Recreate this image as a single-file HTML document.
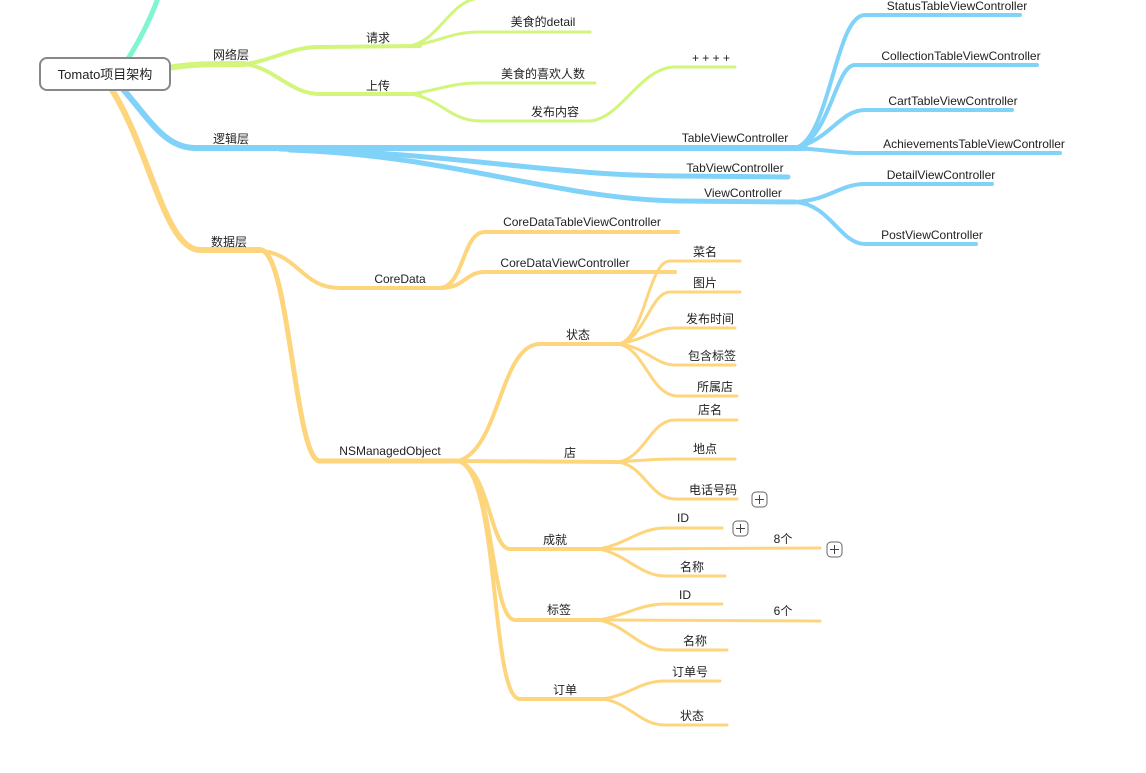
<!DOCTYPE html>
<html><head><meta charset="utf-8"><style>
html,body{margin:0;padding:0;background:#fff;}
svg{display:block;}
text{font-family:"Liberation Sans","Noto Sans CJK SC",sans-serif;font-size:12px;fill:#222;text-anchor:middle;}
.g{stroke:#d2f57c;fill:none;stroke-linecap:round;}
.b{stroke:#80d2f8;fill:none;stroke-linecap:round;}
.o{stroke:#fdd57c;fill:none;stroke-linecap:round;}
</style></head><body>
<svg width="1146" height="773" viewBox="0 0 1146 773" xmlns="http://www.w3.org/2000/svg">
<!-- teal -->
<path d="M126,62 C140,40 150,20 158,-2" stroke="#80f5d2" stroke-width="5" fill="none"/>
<!-- green -->
<path class="g" stroke-width="6" d="M168,68 C190,64 210,64 245,64"/>
<path class="g" stroke-width="4" d="M245,64 C275,60 290,47 320,47 L420,46"/>
<path class="g" stroke-width="4" d="M245,64 C275,68 290,94 320,94 L420,94"/>
<path class="g" stroke-width="3" d="M410,46 C440,40 450,0 480,-2 L600,-2"/>
<path class="g" stroke-width="3" d="M410,46 C440,42 450,32 480,32 L590,32"/>
<path class="g" stroke-width="3" d="M410,94 C440,90 450,83 480,83 L595,83"/>
<path class="g" stroke-width="3" d="M410,94 C440,98 450,121 480,121 L588,121 C620,121 640,67 675,67 L735,67"/>
<!-- blue -->
<path class="b" stroke-width="6" d="M122,88 C150,120 165,148 195,148 L805,148"/>
<path class="b" stroke-width="5" d="M280,149 C450,152 550,176 680,176 L788,177"/>
<path class="b" stroke-width="5" d="M290,150 C450,155 560,200 680,201 L795,202"/>
<path class="b" stroke-width="4" d="M795,148 C830,140 835,15 865,15 L1020,15"/>
<path class="b" stroke-width="4" d="M795,148 C830,140 835,65 855,65 L1037,65"/>
<path class="b" stroke-width="4" d="M795,148 C830,140 840,110 865,110 L1012,110"/>
<path class="b" stroke-width="4" d="M795,148 C830,150 840,153 860,153 L1060,153"/>
<path class="b" stroke-width="4" d="M795,202 C830,200 840,184 865,184 L992,184"/>
<path class="b" stroke-width="4" d="M795,202 C830,204 840,244 865,244 L976,244"/>
<!-- orange -->
<path class="o" stroke-width="6" d="M112,90 C150,150 165,250 200,250 L260,250"/>
<path class="o" stroke-width="4" d="M255,250 C300,252 300,288 340,288 L440,288"/>
<path class="o" stroke-width="4" d="M440,288 C465,285 462,232 485,232 L678,232"/>
<path class="o" stroke-width="4" d="M440,288 C465,288 465,272 485,272 L675,272"/>
<path class="o" stroke-width="5" d="M262,250 C290,260 295,461 320,461 L460,461"/>
<path class="o" stroke-width="4" d="M458,461 C500,450 500,344 540,344 L620,344"/>
<path class="o" stroke-width="4" d="M458,461 L620,462"/>
<path class="o" stroke-width="4" d="M458,461 C490,470 490,549 510,549 L600,549"/>
<path class="o" stroke-width="4" d="M458,461 C495,470 490,620 515,620 L600,620"/>
<path class="o" stroke-width="4" d="M458,461 C500,470 490,699 520,699 L605,699"/>
<g stroke-width="3">
<path class="o" d="M618,344 C645,340 648,261 670,261 L740,261"/>
<path class="o" d="M618,344 C645,340 650,292 670,292 L740,292"/>
<path class="o" d="M618,344 C645,340 655,328 675,328 L735,328"/>
<path class="o" d="M618,344 C645,346 655,365 675,365 L735,365"/>
<path class="o" d="M618,344 C645,348 650,396 678,396 L737,396"/>
<path class="o" d="M618,462 C645,458 650,420 675,420 L737,420"/>
<path class="o" d="M618,462 C645,460 655,459 675,459 L735,459"/>
<path class="o" d="M618,462 C645,466 650,499 675,499 L737,499"/>
<path class="o" d="M598,549 C625,545 640,528 665,528 L722,528"/>
<path class="o" d="M598,549 L820,548"/>
<path class="o" d="M598,549 C625,553 640,576 665,576 L725,576"/>
<path class="o" d="M598,620 C625,616 640,604 665,604 L722,604"/>
<path class="o" d="M598,620 L820,621"/>
<path class="o" d="M598,620 C625,624 640,650 665,650 L727,650"/>
<path class="o" d="M603,699 C630,695 640,681 665,681 L720,681"/>
<path class="o" d="M603,699 C630,703 640,725 665,725 L727,725"/>
</g>
<!-- root -->
<rect x="40" y="58" width="130" height="32" rx="7" fill="#fff" stroke="#888" stroke-width="2"/>
<text x="105" y="79" style="font-size:13px">Tomato项目架构</text>
<!-- plus boxes -->
<g fill="#fff" stroke="#666" stroke-width="1">
<rect x="752" y="492" width="15" height="15" rx="4"/><rect x="733" y="521" width="15" height="15" rx="4"/><rect x="827" y="542" width="15" height="15" rx="4"/>
</g>
<g stroke="#444" stroke-width="1">
<path d="M755,499.5h9M759.5,495v9"/><path d="M736,528.5h9M740.5,524v9"/><path d="M830,549.5h9M834.5,545v9"/>
</g>
<!-- labels -->
<text x="231" y="59">网络层</text>
<text x="378" y="42">请求</text>
<text x="378" y="90">上传</text>
<text x="543" y="26">美食的detail</text>
<text x="543" y="78">美食的喜欢人数</text>
<text x="555" y="116">发布内容</text>
<text x="711" y="62">+ + + +</text>
<text x="231" y="143">逻辑层</text>
<text x="735" y="142">TableViewController</text>
<text x="735" y="172">TabViewController</text>
<text x="743" y="197">ViewController</text>
<text x="957" y="10">StatusTableViewController</text>
<text x="961" y="60">CollectionTableViewController</text>
<text x="953" y="105">CartTableViewController</text>
<text x="974" y="148">AchievementsTableViewController</text>
<text x="941" y="179">DetailViewController</text>
<text x="932" y="239">PostViewController</text>
<text x="229" y="246">数据层</text>
<text x="400" y="283">CoreData</text>
<text x="582" y="226">CoreDataTableViewController</text>
<text x="565" y="267">CoreDataViewController</text>
<text x="390" y="455">NSManagedObject</text>
<text x="578" y="339">状态</text>
<text x="705" y="256">菜名</text>
<text x="705" y="287">图片</text>
<text x="710" y="323">发布时间</text>
<text x="712" y="360">包含标签</text>
<text x="715" y="391">所属店</text>
<text x="570" y="457">店</text>
<text x="710" y="414">店名</text>
<text x="705" y="453">地点</text>
<text x="713" y="494">电话号码</text>
<text x="555" y="544">成就</text>
<text x="683" y="522">ID</text>
<text x="783" y="543">8个</text>
<text x="692" y="571">名称</text>
<text x="559" y="614">标签</text>
<text x="685" y="599">ID</text>
<text x="783" y="615">6个</text>
<text x="695" y="645">名称</text>
<text x="565" y="694">订单</text>
<text x="690" y="676">订单号</text>
<text x="692" y="720">状态</text>
</svg>
</body></html>
